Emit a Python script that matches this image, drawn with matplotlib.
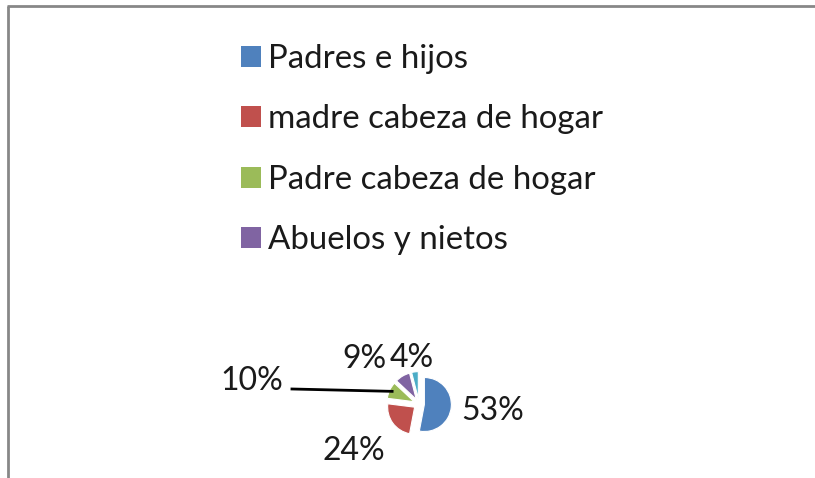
import numpy as np
import matplotlib
matplotlib.use("Agg")
from matplotlib import pyplot as plt
from matplotlib.patches import Patch

# datos del grafico
categorias = ["Padres e hijos", "madre cabeza de hogar", "Padre cabeza de hogar",
              "Abuelos y nietos", "Otros"]
porcentajes = [53, 24, 10, 9, 4]
colores = ["#4F81BD", "#C0504D", "#9BBB59", "#8064A2", "#4BACC6"]
etiquetas = ["53%", "24%", "10%", "9%", "4%"]

plt.rcParams['font.family'] = ['Lato', 'DejaVu Sans']

W, H = 815, 478
fig = plt.figure(figsize=(W / 100, H / 100), dpi=100)
ax = fig.add_axes([0, 0, 1, 1])

# pastel pequeño con sectores separados (el explode de matplotlib va en unidades de datos)
centro = (419, 74)
R = 27
wedges, _ = ax.pie(porcentajes, colors=colores, startangle=90, counterclock=False,
                   center=centro, radius=R, explode=[0.2 * R] * 5,
                   wedgeprops=dict(linewidth=0.8, edgecolor='white'))
ax.set_xlim(0, W)
ax.set_ylim(0, H)
ax.set_aspect('equal')
ax.axis('off')

# marco gris (solo izquierda y arriba visibles)
ax.plot([8, 8], [0, H - 6], color='#878787', lw=2, solid_capstyle='butt')
ax.plot([7, W], [H - 6, H - 6], color='#878787', lw=2, solid_capstyle='butt')

# posicion de las etiquetas: distancia (en radios) y giro respecto al centro del sector
dist = [2.75, 2.99, 5.11, 2.63, 1.72]
giro = [0, 0, 15.6, 20.1, 1.5]
for i, w in enumerate(wedges):
    mid = np.deg2rad((w.theta1 + w.theta2) / 2 + giro[i])
    x = centro[0] + dist[i] * R * np.cos(mid)
    y = centro[1] + dist[i] * R * np.sin(mid)
    ha = 'right' if i == 2 else 'center'
    ax.text(x, y, etiquetas[i], fontsize=23, ha=ha, va='center', color='#1a1a1a')
    if i == 2:
        m2 = np.deg2rad((w.theta1 + w.theta2) / 2)
        xe = centro[0] + 1.1 * R * np.cos(m2)
        ye = centro[1] + 1.1 * R * np.sin(m2)
        ax.plot([x + 9, xe], [y - 8, ye], color='black', lw=2)

# leyenda (solo las cuatro primeras categorias)
handles = [Patch(facecolor=colores[i], edgecolor='none') for i in range(4)]
fig.legend(handles, categorias[:4], loc='upper left',
           bbox_to_anchor=(241 / W, (H - 44) / H), frameon=False,
           fontsize=23.8, handlelength=0.61, handleheight=0.61, handletextpad=0.2,
           labelspacing=0.92, borderpad=0, borderaxespad=0, labelcolor='#1a1a1a')

fig.savefig("out.png", dpi=100)
